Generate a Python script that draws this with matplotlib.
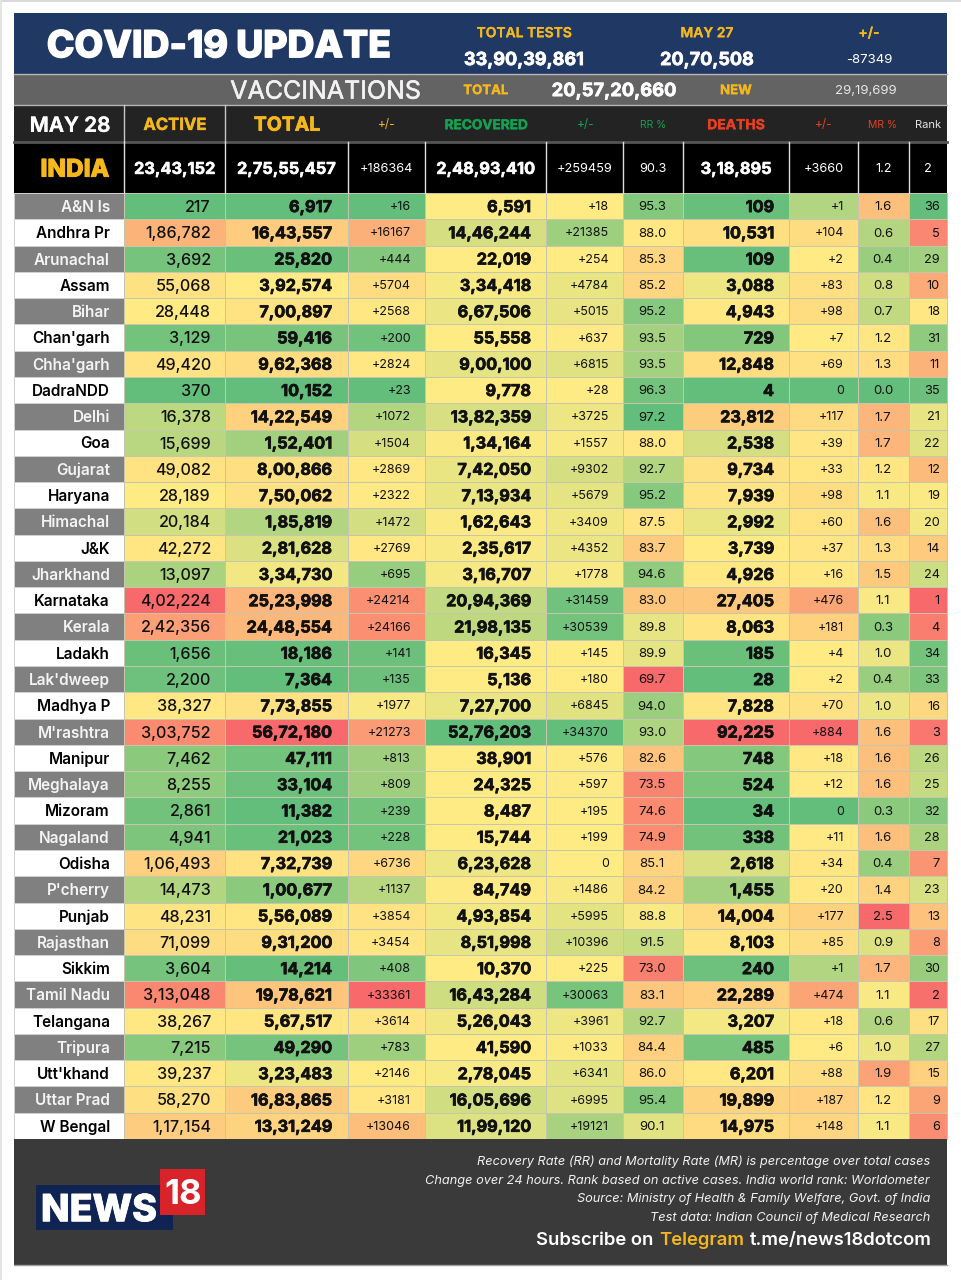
#!/usr/bin/env python
"""
Covid-19 state table for India, May 28. Heat coloured cells, drawn in a pixel sized axes.
Usage:
    $ python3 plot.py
"""

# importing libraries
import numpy as np
import matplotlib
matplotlib.use("Agg")
import matplotlib.pyplot as plt
import matplotlib.patheffects as pe
from matplotlib.colors import LinearSegmentedColormap, ListedColormap, Normalize, TwoSlopeNorm
from matplotlib.patches import Rectangle

plt.rcParams["font.family"] = ["Inter", "DejaVu Sans"]

# table data
states = ["A&N Is", "Andhra Pr", "Arunachal", "Assam", "Bihar", "Chan'garh", "Chha'garh", "DadraNDD", "Delhi",
          "Goa", "Gujarat", "Haryana", "Himachal", "J&K", "Jharkhand", "Karnataka", "Kerala", "Ladakh",
          "Lak'dweep", "Madhya P", "M'rashtra", "Manipur", "Meghalaya", "Mizoram", "Nagaland", "Odisha",
          "P'cherry", "Punjab", "Rajasthan", "Sikkim", "Tamil Nadu", "Telangana", "Tripura", "Utt'khand",
          "Uttar Prad", "W Bengal"]
active = [217, 186782, 3692, 55068, 28448, 3129, 49420, 370, 16378, 15699, 49082, 28189, 20184, 42272, 13097,
          402224, 242356, 1656, 2200, 38327, 303752, 7462, 8255, 2861, 4941, 106493, 14473, 48231, 71099, 3604,
          313048, 38267, 7215, 39237, 58270, 117154]
total = [6917, 1643557, 25820, 392574, 700897, 59416, 962368, 10152, 1422549, 152401, 800866, 750062, 185819,
         281628, 334730, 2523998, 2448554, 18186, 7364, 773855, 5672180, 47111, 33104, 11382, 21023, 732739,
         100677, 556089, 931200, 14214, 1978621, 567517, 49290, 323483, 1683865, 1331249]
total_change = [16, 16167, 444, 5704, 2568, 200, 2824, 23, 1072, 1504, 2869, 2322, 1472, 2769, 695, 24214, 24166,
                141, 135, 1977, 21273, 813, 809, 239, 228, 6736, 1137, 3854, 3454, 408, 33361, 3614, 783, 2146,
                3181, 13046]
recovered = [6591, 1446244, 22019, 334418, 667506, 55558, 900100, 9778, 1382359, 134164, 742050, 713934, 162643,
             235617, 316707, 2094369, 2198135, 16345, 5136, 727700, 5276203, 38901, 24325, 8487, 15744, 623628,
             84749, 493854, 851998, 10370, 1643284, 526043, 41590, 278045, 1605696, 1199120]
recovered_change = [18, 21385, 254, 4784, 5015, 637, 6815, 28, 3725, 1557, 9302, 5679, 3409, 4352, 1778, 31459,
                    30539, 145, 180, 6845, 34370, 576, 597, 195, 199, 0, 1486, 5995, 10396, 225, 30063, 3961, 1033,
                    6341, 6995, 19121]
rr = [95.3, 88.0, 85.3, 85.2, 95.2, 93.5, 93.5, 96.3, 97.2, 88.0, 92.7, 95.2, 87.5, 83.7, 94.6, 83.0, 89.8, 89.9,
      69.7, 94.0, 93.0, 82.6, 73.5, 74.6, 74.9, 85.1, 84.2, 88.8, 91.5, 73.0, 83.1, 92.7, 84.4, 86.0, 95.4, 90.1]
deaths = [109, 10531, 109, 3088, 4943, 729, 12848, 4, 23812, 2538, 9734, 7939, 2992, 3739, 4926, 27405, 8063, 185,
          28, 7828, 92225, 748, 524, 34, 338, 2618, 1455, 14004, 8103, 240, 22289, 3207, 485, 6201, 19899, 14975]
deaths_change = [1, 104, 2, 83, 98, 7, 69, 0, 117, 39, 33, 98, 60, 37, 16, 476, 181, 4, 2, 70, 884, 18, 12, 0, 11,
                 34, 20, 177, 85, 1, 474, 18, 6, 88, 187, 148]
mr = [1.6, 0.6, 0.4, 0.8, 0.7, 1.2, 1.3, 0.0, 1.7, 1.7, 1.2, 1.1, 1.6, 1.3, 1.5, 1.1, 0.3, 1.0, 0.4, 1.0, 1.6, 1.6,
      1.6, 0.3, 1.6, 0.4, 1.4, 2.5, 0.9, 1.7, 1.1, 0.6, 1.0, 1.9, 1.2, 1.1]
rank = [36, 5, 29, 10, 18, 31, 11, 35, 21, 22, 12, 19, 20, 14, 24, 1, 4, 34, 33, 16, 3, 26, 25, 32, 28, 7, 23, 13, 8,
        30, 2, 17, 27, 15, 9, 6]

# India row and the top panels
india_row = ["23,43,152", "2,75,55,457", "+186364", "2,48,93,410", "+259459", "90.3", "3,18,895", "+3660", "1.2", "2"]
tests_labels = ["TOTAL TESTS", "MAY 27", "+/-"]
tests_values = ["33,90,39,861", "20,70,508", "-87349"]
footer_notes = ["Recovery Rate (RR) and Mortality Rate (MR) is percentage over total cases",
                "Change over 24 hours. Rank based on active cases. India world rank: Worldometer",
                "Source: Ministry of Health & Family Welfare, Govt. of India",
                "Test data: Indian Council of Medical Research"]

# layout in pixels
col_edges = [14, 124, 225, 348, 425, 546, 623, 683, 789, 858, 909, 947]
row_edges = np.linspace(193, 1139, len(states) + 1)
row_mid = (row_edges[:-1] + row_edges[1:]) / 2

GREEN, YELLOW, RED = "#63BE7B", "#FFEB84", "#F8696B"
GOLD = "#f5b81c"
DARK_GREEN = "#12a150"
ORANGE_RED = "#e5401f"
GRID = "#c6c6ae"

low_is_green = LinearSegmentedColormap.from_list("low_is_green", [GREEN, YELLOW, RED])
high_is_green = LinearSegmentedColormap.from_list("high_is_green", [RED, YELLOW, GREEN])
yellow_to_green = LinearSegmentedColormap.from_list("yellow_to_green", [YELLOW, GREEN])


# Indian digit grouping, 16,43,557
def indian(n):
    s = str(n)
    if len(s) <= 3:
        return s
    head, tail = s[:-3], s[-3:]
    parts = []
    while len(head) > 2:
        parts.insert(0, head[-2:])
        head = head[:-2]
    parts.insert(0, head)
    return ",".join(parts) + "," + tail


def signed(n):
    return f"+{n}" if n else "0"


# three colour scale with the median as its middle
def median_norm(values, center=None):
    if center is None:
        center = float(np.median(values))
    return TwoSlopeNorm(vmin=min(values), vcenter=center, vmax=max(values))


# one tuple per heat column: values, colormap, norm, labels, text x, alignment, size, weight, stroke
columns = [
    (active, low_is_green, median_norm(active), [indian(v) for v in active], 211, "right", 11.6, "medium", 0),
    (total, low_is_green, median_norm(total), [indian(v) for v in total], 332, "right", 11.7, "bold", 0.5),
    (total_change, low_is_green, median_norm(total_change), [signed(v) for v in total_change], 411, "right", 9, "normal", 0),
    (recovered, yellow_to_green, Normalize(min(recovered), max(recovered)), [indian(v) for v in recovered], 531, "right", 11.7, "bold", 0.5),
    (recovered_change, yellow_to_green, Normalize(min(recovered_change), max(recovered_change)), [signed(v) for v in recovered_change], 609, "right", 9, "normal", 0),
    (rr, high_is_green, median_norm(rr), [f"{v:.1f}" for v in rr], 652, "center", 9.5, "normal", 0),
    (deaths, low_is_green, median_norm(deaths), [indian(v) for v in deaths], 774, "right", 11.7, "bold", 0.5),
    (deaths_change, low_is_green, median_norm(deaths_change, 2), [signed(v) for v in deaths_change], 844, "right", 9, "normal", 0),
    (mr, low_is_green, median_norm(mr), [f"{v:.1f}" for v in mr], 883, "center", 9.5, "normal", 0),
    (rank, high_is_green, median_norm(rank), [str(v) for v in rank], 940, "right", 9.2, "normal", 0),
]

# full figure axes in image pixels
fig = plt.figure(figsize=(9.62, 12.8), dpi=100)
ax = fig.add_axes([0, 0, 1, 1])
ax.set_xlim(0, 962)
ax.set_ylim(1280, 0)
ax.axis("off")


def block(x0, y0, x1, y1, color):
    ax.add_patch(Rectangle((x0, y0), x1 - x0, y1 - y0, facecolor=color, edgecolor="none"))


# y is the visual middle of the text, va center sits a bit high for caps and digits
def label(x, y, s, size, color="white", weight="normal", ha="center", thick=0, **kw):
    t = ax.text(x, y + 0.12 * size, s, fontsize=size, color=color, fontweight=weight, ha=ha, va="center", **kw)
    if thick:
        t.set_path_effects([pe.withStroke(linewidth=thick, foreground=color)])
    return t


# thin grey page edge
block(0, 0, 962, 2, "#d9d9d9")
block(0, 0, 2, 1280, "#e4e4e4")

# panels above the table
block(14, 13, 947, 74, "#203864")
block(14, 74, 947, 105, "#636363")
block(14, 105, 947, 142, "#232323")
block(14, 142, 947, 193, "#000000")
ax.plot([14, 947], [74, 74], color="#b5b5b5", lw=1)
ax.plot([14, 947], [105, 105], color="#b5b5b5", lw=1)
ax.plot([14, 947], [142, 142], color="#555555", lw=2)

label(219, 44, "COVID-19 UPDATE", 26.8, weight="heavy", thick=1.0)
for x, top, bottom in zip([524, 707, 869], tests_labels, tests_values):
    label(x, 32, top, 10, color=GOLD, weight="semibold", thick=0.2)
    small = bottom == "-87349"
    label(x, 59, bottom, 9.5 if small else 13, weight="normal" if small else "bold", thick=0 if small else 0.5)

label(326, 90, "VACCINATIONS", 18, color="#f2f2f2", thick=0.4)
label(486, 90, "TOTAL", 9.5, color=GOLD, weight="bold", thick=0.2)
label(614, 90, "20,57,20,660", 13.2, weight="bold", thick=0.5)
label(736, 90, "NEW", 9.5, color=GOLD, weight="bold", thick=0.2)
label(866, 90, "29,19,699", 9.5, color="#e6e6e6")

# column headings
label(70, 124, "MAY 28", 15, weight="semibold", thick=0.3)
label(175, 124, "ACTIVE", 12, color=GOLD, weight="bold", thick=0.3)
label(287, 124, "TOTAL", 14, color=GOLD, weight="bold", thick=0.5)
label(387, 124, "+/-", 8.5, color=GOLD)
label(486, 124, "RECOVERED", 9.8, color=DARK_GREEN, weight="bold", thick=0.3)
label(586, 124, "+/-", 8.5, color=DARK_GREEN)
label(653, 124, "RR %", 7.5, color=DARK_GREEN)
label(736, 124, "DEATHS", 10, color=ORANGE_RED, weight="bold", thick=0.3)
label(824, 124, "+/-", 8.5, color=ORANGE_RED)
label(883, 124, "MR %", 7.5, color=ORANGE_RED)
label(928, 124, "Rank", 8, color="#e6e6e6")
for x in col_edges[1:3]:
    ax.plot([x, x], [105, 142], color="#c8c8c8", lw=1)

# India row
label(75, 168, "INDIA", 17.5, color=GOLD, weight="heavy", thick=0.7)
for i, s in enumerate(india_row):
    x = (col_edges[i + 1] + col_edges[i + 2]) / 2
    big = i in (0, 1, 3, 6)
    label(x, 168, s, 11.8 if big else 9.2, weight="bold" if big else "normal", thick=0.4 if big else 0)
for x in col_edges[1:-1]:
    ax.plot([x, x], [142, 193], color="#e0e0e0", lw=1)

# state names, grey and white in turns
name_shade = (np.arange(len(states)) % 2).reshape(-1, 1)
ax.pcolormesh(col_edges[:2], row_edges, name_shade, cmap=ListedColormap(["#808080", "#ffffff"]),
              vmin=0, vmax=1, edgecolors="#d0d0d0", linewidth=0.5)
for i, name in enumerate(states):
    label(110, row_mid[i], name, 11, color="#f4f4f4" if i % 2 == 0 else "#000000", weight="semibold", ha="right")

# heat columns
for i, (values, cmap, norm, texts, tx, ha, size, weight, thick) in enumerate(columns):
    cells = np.array(values, dtype=float).reshape(-1, 1)
    ax.pcolormesh(col_edges[i + 1:i + 3], row_edges, cells, cmap=cmap, norm=norm, edgecolors=GRID, linewidth=0.7)
    for y, s in zip(row_mid, texts):
        label(tx, y, s, size, color="#111111", weight=weight, ha=ha, thick=thick)

# footer
block(14, 1139, 947, 1265, "#3a3a3a")
ax.plot([14, 947], [1265, 1265], color="#a0a0a0", lw=1)
for y, note in zip([1160.5, 1179.5, 1198, 1216.5], footer_notes):
    label(930, y, note, 9.2, color="#f0f0f0", ha="right", style="italic")

# subscribe line, three colours so measure each piece from the right
renderer = fig.canvas.get_renderer()
right = 932
for s, color in [("t.me/news18dotcom", "white"), ("Telegram", GOLD), ("Subscribe on", "white")]:
    t = label(right, 1239, s, 13.3, color=color, weight="semibold", ha="right")
    right = t.get_window_extent(renderer).x0 - 6

# logo
block(36, 1185, 173, 1230, "#0f2452")
block(160, 1169, 205, 1215, "#d8232a")
label(99, 1208, "NEWS", 27, weight="heavy", thick=0.6)
label(183, 1192, "18", 25, weight="bold")

fig.savefig("out.png", dpi=100)
